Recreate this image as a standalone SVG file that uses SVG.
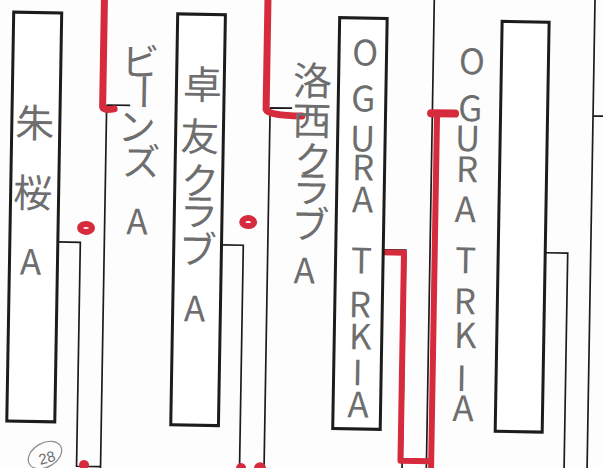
<svg xmlns="http://www.w3.org/2000/svg" width="603" height="468" viewBox="0 0 603 468">
<style>
.box{fill:#fff;stroke:#1c1c1c;stroke-width:3}
.ln{fill:none;stroke:#1c1c1c;stroke-width:1.7}
.red{fill:none;stroke:#d52b3d;stroke-width:6;stroke-linecap:round;stroke-linejoin:round}
.dot{fill:none;stroke:#d52b3d;stroke-width:6}
.lbl{font-family:"Noto Sans CJK JP","Noto Sans",sans-serif;fill:#6e6e6e;writing-mode:vertical-rl;text-orientation:upright;text-anchor:middle}
.jp{font-size:39px}
.en{font-size:35px}
.pencil{fill:none;stroke:#8a8a8a;stroke-width:1.2}
</style>
<rect width="603" height="468" fill="#fdfdfd"/>
<g transform="rotate(0.97 300 234)">
  <g id="connectors">
    <path class="ln" d="M104.5,108.3 V476 M104.5,108.3 H128"/>
    <path class="ln" d="M58,246 H80.5 V470 H104.5"/>
    <path class="ln" d="M268,108.3 V476 M268,108.3 H290"/>
    <path class="ln" d="M221.7,246.2 H243.5 V476"/>
    <path class="ln" d="M430.3,-10 V476 M430.3,110.6 H453"/>
    <path class="ln" d="M383.5,248.4 H406 V476"/>
    <path class="ln" d="M591,-10 V476 M591,111 H612"/>
    <path class="ln" d="M545.5,248.6 H568 V476"/>
    <path class="red" style="stroke-width:7" d="M100.5,-10 V110 Q101,114 112,112"/>
    <path class="red" style="stroke-width:7" d="M264,-10 V110 Q266,116 300,116"/>
    <path class="red" style="stroke-width:8" d="M429,111 H453"/>
    <path class="red" d="M435,112 V476"/>
    <path class="red" d="M381,251 H404.3 V459 H435"/>
    <ellipse class="dot" cx="86" cy="231.5" rx="6" ry="4"/>
    <ellipse class="dot" cx="248" cy="223" rx="6" ry="4"/>
    <circle cx="88" cy="468.5" r="5" fill="#d52b3d"/>
    <circle cx="245" cy="469" r="5" fill="#d52b3d"/>
    <circle cx="264" cy="469" r="6" fill="#d52b3d"/>
  </g>
  <g id="team-shuou">
    <rect class="box" x="10" y="17" width="48" height="409"/>
    <text class="lbl jp"><tspan x="33" y="127">朱</tspan><tspan x="32" y="197">桜</tspan><tspan x="31" y="266" class="en">A</tspan></text>
  </g>
  <g id="team-beans">
    <text class="lbl jp"><tspan x="137" y="64">ビ</tspan><tspan x="142" y="95">ー</tspan><tspan x="135" y="129">ン</tspan><tspan x="140" y="164">ズ</tspan><tspan x="137" y="224" class="en">A</tspan></text>
  </g>
  <g id="team-takuyu">
    <rect class="box" x="174" y="16" width="47.7" height="411"/>
    <text class="lbl jp"><tspan x="200" y="86">卓</tspan><tspan x="198" y="138">友</tspan><tspan x="199" y="182">ク</tspan><tspan x="199" y="213">ラ</tspan><tspan x="198" y="251">ブ</tspan><tspan x="196" y="310" class="en">A</tspan></text>
  </g>
  <g id="team-rakusai">
    <text class="lbl jp"><tspan x="310" y="80">洛</tspan><tspan x="310" y="120">西</tspan><tspan x="312" y="159">ク</tspan><tspan x="311" y="188">ラ</tspan><tspan x="310" y="224">ブ</tspan><tspan x="305" y="270" class="en">A</tspan></text>
  </g>
  <g id="team-ogura-1">
    <rect class="box" x="336" y="17" width="47.5" height="411"/>
    <text class="lbl en"><tspan x="362" y="51">O</tspan><tspan x="361" y="97">G</tspan><tspan x="361" y="137">U</tspan><tspan x="362" y="166">R</tspan><tspan x="362" y="198">A</tspan><tspan x="362" y="259">T</tspan><tspan x="361" y="303">R</tspan><tspan x="362" y="335">K</tspan><tspan x="360" y="371">I</tspan><tspan x="361" y="403">A</tspan></text>
  </g>
  <g id="team-ogura-2">
    <text class="lbl en"><tspan x="469" y="58">O</tspan><tspan x="468" y="105">G</tspan><tspan x="466" y="135">U</tspan><tspan x="466" y="166">R</tspan><tspan x="465" y="206">A</tspan><tspan x="466" y="257">T</tspan><tspan x="466" y="298">R</tspan><tspan x="467" y="332">K</tspan><tspan x="464" y="375">I</tspan><tspan x="466" y="405">A</tspan></text>
  </g>
  <g id="team-empty">
    <rect class="box" x="498.5" y="18" width="47" height="410"/>
  </g>
</g>
<g id="note-28">
  <ellipse class="pencil" cx="45" cy="455" rx="18" ry="12" transform="rotate(-30 45 455)"/>
  <text x="47" y="463" font-family="'Liberation Sans',sans-serif" font-size="15" fill="#6e6e6e" text-anchor="middle" transform="rotate(-15 47 458)">28</text>
</g>
</svg>
